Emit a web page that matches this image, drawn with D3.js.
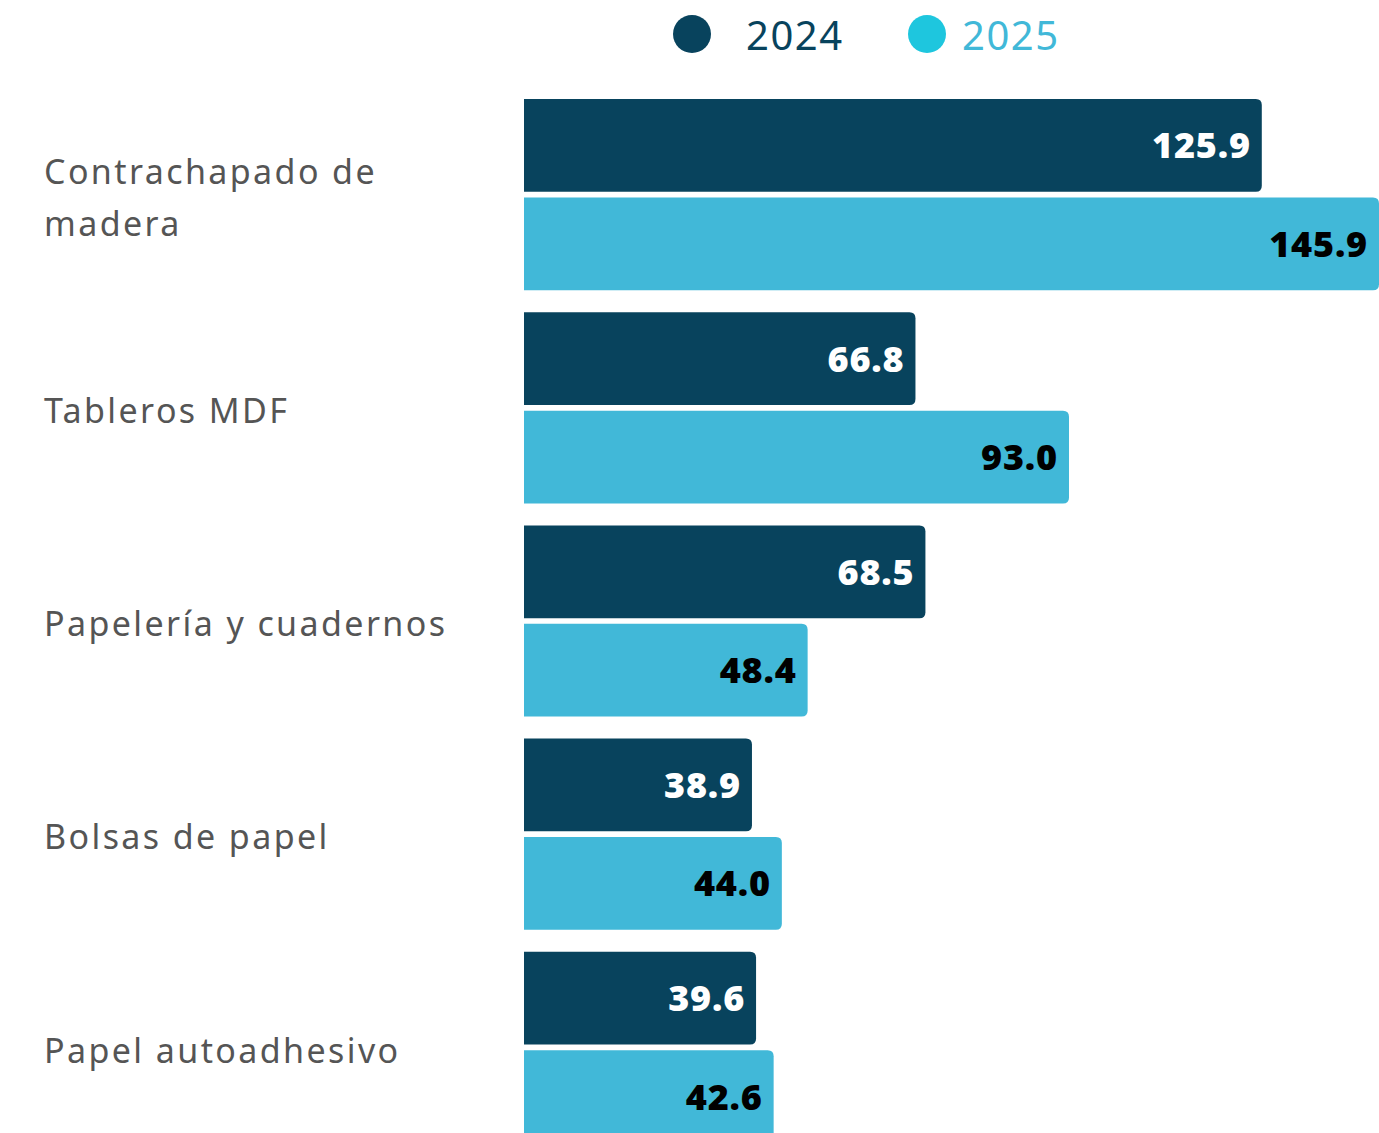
<!DOCTYPE html>
<html>
<head>
<meta charset="utf-8">
<script src="https://cdn.jsdelivr.net/npm/d3@7"></script>
<style>
  body { margin: 0; background: #fff; }
  svg { display: block; font-family: "Noto Sans", sans-serif; }
</style>
</head>
<body>
<svg id="chart" width="1379" height="1133"></svg>
<script>
// data
var categories = [
    ["Contrachapado de", "madera"],
    ["Tableros MDF"],
    ["Papelería y cuadernos"],
    ["Bolsas de papel"],
    ["Papel autoadhesivo"]
];
var series = ["2024", "2025"];
var values2024 = [125.9, 66.8, 68.5, 38.9, 39.6];
var values2025 = [145.9, 93.0, 48.4, 44.0, 42.6];

var barColors = { "2024": "#08435d", "2025": "#41b8d8" };
var dotColors = { "2024": "#08435d", "2025": "#1ec6de" };
var legendText = { "2024": "#08435d", "2025": "#41b8d8" };
var valueText = { "2024": "#ffffff", "2025": "#000000" };

var svg = d3.select("#chart");

var rows = categories.map(function (c, i) {
    return { name: c, key: "c" + i, v: { "2024": values2024[i], "2025": values2025[i] } };
});

var x = d3.scaleLinear().domain([0, 145.9]).range([524, 1379]);

var y0 = d3.scaleBand()
    .domain(rows.map(function (d) { return d.key; }))
    .range([99, 1143])
    .paddingInner(0.103)
    .paddingOuter(0);

var y1 = d3.scaleBand()
    .domain(series)
    .range([0, y0.bandwidth()])
    .paddingInner(0.058);

// bar with rounded right corners only
function barPath(x0, y, w, h, r) {
    r = Math.min(r, w);
    return "M" + x0 + "," + y +
        "H" + (x0 + w - r) +
        "Q" + (x0 + w) + "," + y + " " + (x0 + w) + "," + (y + r) +
        "V" + (y + h - r) +
        "Q" + (x0 + w) + "," + (y + h) + " " + (x0 + w - r) + "," + (y + h) +
        "H" + x0 + "Z";
}

var groups = svg.selectAll("g.group")
    .data(rows)
    .enter()
    .append("g")
    .attr("class", "group")
    .attr("transform", function (d) { return "translate(0," + y0(d.key) + ")"; });

groups.selectAll("path")
    .data(function (d) { return series.map(function (s) { return { s: s, v: d.v[s] }; }); })
    .enter()
    .append("path")
    .attr("d", function (d) {
        return barPath(x(0), y1(d.s), x(d.v) - x(0), y1.bandwidth(), 6);
    })
    .attr("fill", function (d) { return barColors[d.s]; });

groups.selectAll("text.val")
    .data(function (d) { return series.map(function (s) { return { s: s, v: d.v[s] }; }); })
    .enter()
    .append("text")
    .attr("class", "val")
    .attr("x", function (d) { return x(d.v) - 11; })
    .attr("y", function (d) { return y1(d.s) + y1.bandwidth() / 2; })
    .attr("dy", "0.36em")
    .attr("text-anchor", "end")
    .attr("font-size", 36)
    .attr("font-weight", "900")
    .attr("letter-spacing", 0.8)
    .attr("fill", function (d) { return valueText[d.s]; })
    .text(function (d) { return d.v.toFixed(1); });

// category labels
groups.append("text")
    .attr("class", "cat")
    .attr("x", 44)
    .attr("font-size", 34)
    .attr("letter-spacing", 2.4)
    .attr("fill", "#555555")
    .each(function (d) {
        var t = d3.select(this);
        var n = d.name.length;
        var lh = 52;
        var mid = y0.bandwidth() / 2 + 3;
        d.name.forEach(function (line, i) {
            t.append("tspan")
                .attr("x", 44)
                .attr("y", mid + (i - (n - 1) / 2) * lh)
                .attr("dy", "0.36em")
                .text(line);
        });
    });

// legend
var legend = svg.append("g").attr("class", "legend");
var legendX = { "2024": 692, "2025": 927 };
series.forEach(function (s) {
    legend.append("circle")
        .attr("cx", legendX[s])
        .attr("cy", 34)
        .attr("r", 19)
        .attr("fill", dotColors[s]);
    legend.append("text")
        .attr("x", legendX[s] + (s == "2024" ? 54 : 35))
        .attr("y", 36)
        .attr("dy", "0.36em")
        .attr("font-size", 40)
        .attr("letter-spacing", 1.5)
        .attr("fill", legendText[s])
        .text(s);
});
</script>
</body>
</html>
